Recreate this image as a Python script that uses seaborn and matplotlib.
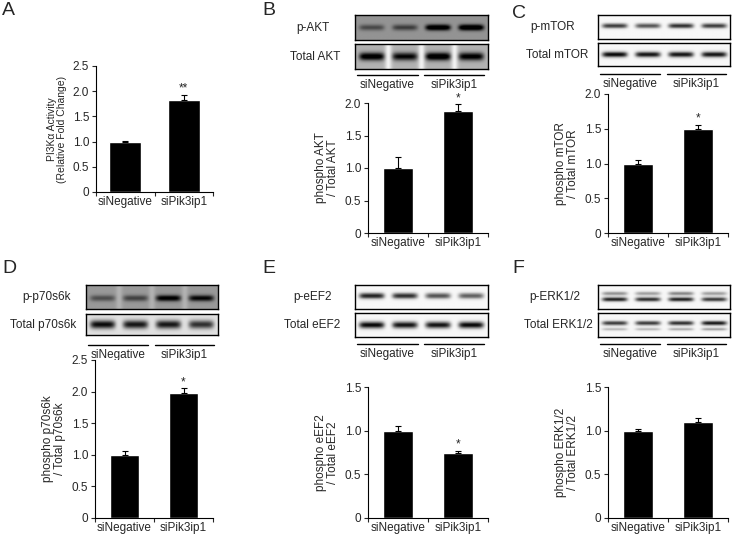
import numpy as np
import matplotlib
matplotlib.use("Agg")
import matplotlib.pyplot as plt
import seaborn as sns
from matplotlib.ticker import FuncFormatter, MultipleLocator

# ------------------------------------------------------------------
# DATA
# ------------------------------------------------------------------
GROUPS = ["siNegative", "siPik3ip1"]

# A: PI3K alpha activity
pi3k_mean = [1.00, 1.83]
pi3k_err = [0.02, 0.10]
pi3k_star = ["", "**"]

# B: AKT
akt_mean = [1.00, 1.88]
akt_err = [0.17, 0.10]
akt_star = ["", "*"]
akt_phos_bands = [0.30, 0.35, 0.75, 0.80]
akt_total_bands = [0.80, 0.70, 0.85, 0.75]

# C: mTOR
mtor_mean = [1.00, 1.49]
mtor_err = [0.05, 0.07]
mtor_star = ["", "*"]
mtor_phos_bands = [0.75, 0.65, 0.80, 0.75]
mtor_total_bands = [0.95, 0.90, 0.90, 0.90]

# D: p70s6k
p70_mean = [1.00, 1.97]
p70_err = [0.06, 0.08]
p70_star = ["", "*"]
p70_phos_bands = [0.30, 0.35, 0.65, 0.60]
p70_total_bands = [0.85, 0.80, 0.80, 0.70]

# E: eEF2
eef2_mean = [1.00, 0.75]
eef2_err = [0.05, 0.02]
eef2_star = ["", "*"]
eef2_phos_bands = [0.85, 0.80, 0.65, 0.60]
eef2_total_bands = [0.95, 0.90, 0.90, 0.95]

# F: ERK1/2
erk_mean = [1.00, 1.10]
erk_err = [0.02, 0.05]
erk_star = ["", ""]
erk_phos_upper = [0.40, 0.35, 0.45, 0.35]
erk_phos_lower = [0.85, 0.80, 0.85, 0.75]
erk_total_upper = [0.75, 0.75, 0.80, 0.90]
erk_total_lower = [0.25, 0.25, 0.30, 0.35]

# ------------------------------------------------------------------
# FIGURE
# ------------------------------------------------------------------
sns.set_style("white")
plt.rcParams["font.family"] = ["Liberation Sans", "DejaVu Sans"]
W, H = 733, 534
FS = 8.5
fig = plt.figure(figsize=(W / 100, H / 100), dpi=100)


def px_axes(x0, y0, x1, y1):
    return fig.add_axes([x0 / W, 1 - y1 / H, (x1 - x0) / W, (y1 - y0) / H])


def bar_panel(box, means, errs, stars, ymax, ylabel, ylabel_size=FS, width=0.5):
    ax = px_axes(*box)
    sns.barplot(x=GROUPS, y=means, color="black", saturation=1, width=width,
                errorbar=None, ax=ax)
    pos = np.arange(len(GROUPS))
    ax.errorbar(pos, means, yerr=[np.zeros(len(errs)), errs], fmt="none",
                ecolor="black", elinewidth=0.8, capsize=2.5, capthick=0.8,
                clip_on=False)
    for i, (m, e, s) in enumerate(zip(means, errs, stars)):
        if s:
            ax.text(i, m + e, s, ha="center", va="bottom", fontsize=FS)
    ax.set_xlim(-0.5, len(GROUPS) - 0.5)
    ax.set_ylim(0, ymax)
    ax.yaxis.set_major_locator(MultipleLocator(0.5))
    ax.yaxis.set_major_formatter(FuncFormatter(lambda v, p: "0" if v == 0 else f"{v:.1f}"))
    sns.despine(ax=ax)
    for sp in ["left", "bottom"]:
        ax.spines[sp].set_linewidth(0.8)
        ax.spines[sp].set_color("black")
    ax.tick_params(axis="y", direction="out", length=3, width=0.8, labelsize=FS,
                   pad=2, left=True)
    ax.tick_params(axis="x", which="major", length=0, labelsize=FS, pad=3)
    ax.set_xticks(np.arange(-0.5, len(GROUPS)), minor=True)
    ax.tick_params(axis="x", which="minor", direction="out", length=3, width=0.8,
                   bottom=True)
    ax.set_xlabel("")
    ax.set_ylabel(ylabel, fontsize=ylabel_size, linespacing=1.0, labelpad=4)
    return ax


def blot_strip(box, rows, bg, gaps=0.0):
    # rows: list of (intensities, y centre, thickness)
    ax = px_axes(*box)
    h, w = 40, 240
    yy, xx = np.mgrid[0:1:h * 1j, 0:1:w * 1j]
    img = np.full((h, w), bg)
    centres = (np.arange(4) + 0.5) / 4
    for c in centres[:-1] + 0.125:
        img -= gaps * np.exp(-((xx - c) / 0.025) ** 2)
    for vals, yc, th in rows:
        for c, v in zip(centres, vals):
            img += v * np.exp(-((xx - c) / 0.095) ** 6) * np.exp(-((yy - yc) / th) ** 2)
    ax.imshow(np.clip(img, 0, 1), cmap="gray_r", vmin=0, vmax=1, aspect="auto",
              interpolation="bilinear")
    ax.set_xticks([])
    ax.set_yticks([])
    for sp in ax.spines.values():
        sp.set_linewidth(1.0)
        sp.set_color("black")
    return ax


def group_bar(x0, x1, y):
    ax = px_axes(x0, y - 2, x1, y + 14)
    ax.set_xlim(0, 1)
    ax.set_ylim(1, 0)
    ax.axis("off")
    ax.plot([0.015, 0.47], [0.1, 0.1], color="black", lw=1.0)
    ax.plot([0.52, 0.97], [0.1, 0.1], color="black", lw=1.0)
    ax.text(0.24, 0.4, GROUPS[0], ha="center", va="top", fontsize=FS)
    ax.text(0.745, 0.4, GROUPS[1], ha="center", va="top", fontsize=FS)


def row_label(x, y, s):
    fig.text(x / W, 1 - y / H, s, ha="center", va="center", fontsize=FS)


def panel_letter(x, y, s):
    fig.text(x / W, 1 - y / H, s, ha="left", va="top", fontsize=14)


# A
bar_panel((96, 66, 213, 192), pi3k_mean, pi3k_err, pi3k_star, 2.5,
          "PI3K\u03b1 Activity\n(Relative Fold Change)", ylabel_size=7.5, width=0.55)
panel_letter(2, 2, "A")

# B
blot_strip((355, 15, 488, 40), [(akt_phos_bands, 0.5, 0.12)], 0.42)
blot_strip((355, 44, 488, 69), [(akt_total_bands, 0.5, 0.16)], 0.3, gaps=0.25)
row_label(313, 28, "p-AKT")
row_label(315, 57, "Total AKT")
group_bar(355, 488, 75)
bar_panel((368, 103, 488, 233), akt_mean, akt_err, akt_star, 2.0,
          "phospho AKT\n/ Total AKT")
panel_letter(262, 2, "B")

# C
blot_strip((598, 15, 730, 39), [(mtor_phos_bands, 0.45, 0.1)], 0.03)
blot_strip((598, 43, 730, 66), [(mtor_total_bands, 0.5, 0.12)], 0.03)
row_label(553, 27, "p-mTOR")
row_label(557, 55, "Total mTOR")
group_bar(598, 730, 74)
bar_panel((608, 94, 728, 233), mtor_mean, mtor_err, mtor_star, 2.0,
          "phospho mTOR\n/ Total mTOR")
panel_letter(512, 5, "C")

# D
blot_strip((86, 285, 218, 309), [(p70_phos_bands, 0.55, 0.13)], 0.4, gaps=0.1)
blot_strip((86, 314, 218, 335), [(p70_total_bands, 0.5, 0.2)], 0.12)
row_label(47, 297, "p-p70s6k")
row_label(43, 325, "Total p70s6k")
group_bar(86, 218, 345)
bar_panel((95, 360, 213, 518), p70_mean, p70_err, p70_star, 2.5,
          "phospho p70s6k\n/ Total p70s6k")
panel_letter(2, 260, "D")

# E
blot_strip((355, 285, 488, 309), [(eef2_phos_bands, 0.45, 0.12)], 0.03)
blot_strip((355, 313, 488, 337), [(eef2_total_bands, 0.5, 0.14)], 0.03)
row_label(313, 297, "p-eEF2")
row_label(312, 325, "Total eEF2")
group_bar(355, 488, 344)
bar_panel((368, 387, 488, 518), eef2_mean, eef2_err, eef2_star, 1.5,
          "phospho eEF2\n/ Total eEF2")
panel_letter(262, 260, "E")

# F
blot_strip((598, 285, 730, 309),
           [(erk_phos_upper, 0.35, 0.08), (erk_phos_lower, 0.6, 0.09)], 0.03)
blot_strip((598, 313, 730, 337),
           [(erk_total_upper, 0.42, 0.09), (erk_total_lower, 0.68, 0.06)], 0.03)
row_label(555, 297, "p-ERK1/2")
row_label(558, 325, "Total ERK1/2")
group_bar(598, 730, 344)
bar_panel((608, 387, 728, 518), erk_mean, erk_err, erk_star, 1.5,
          "phospho ERK1/2\n/ Total ERK1/2")
panel_letter(512, 260, "F")

fig.savefig("out.png", dpi=100)
